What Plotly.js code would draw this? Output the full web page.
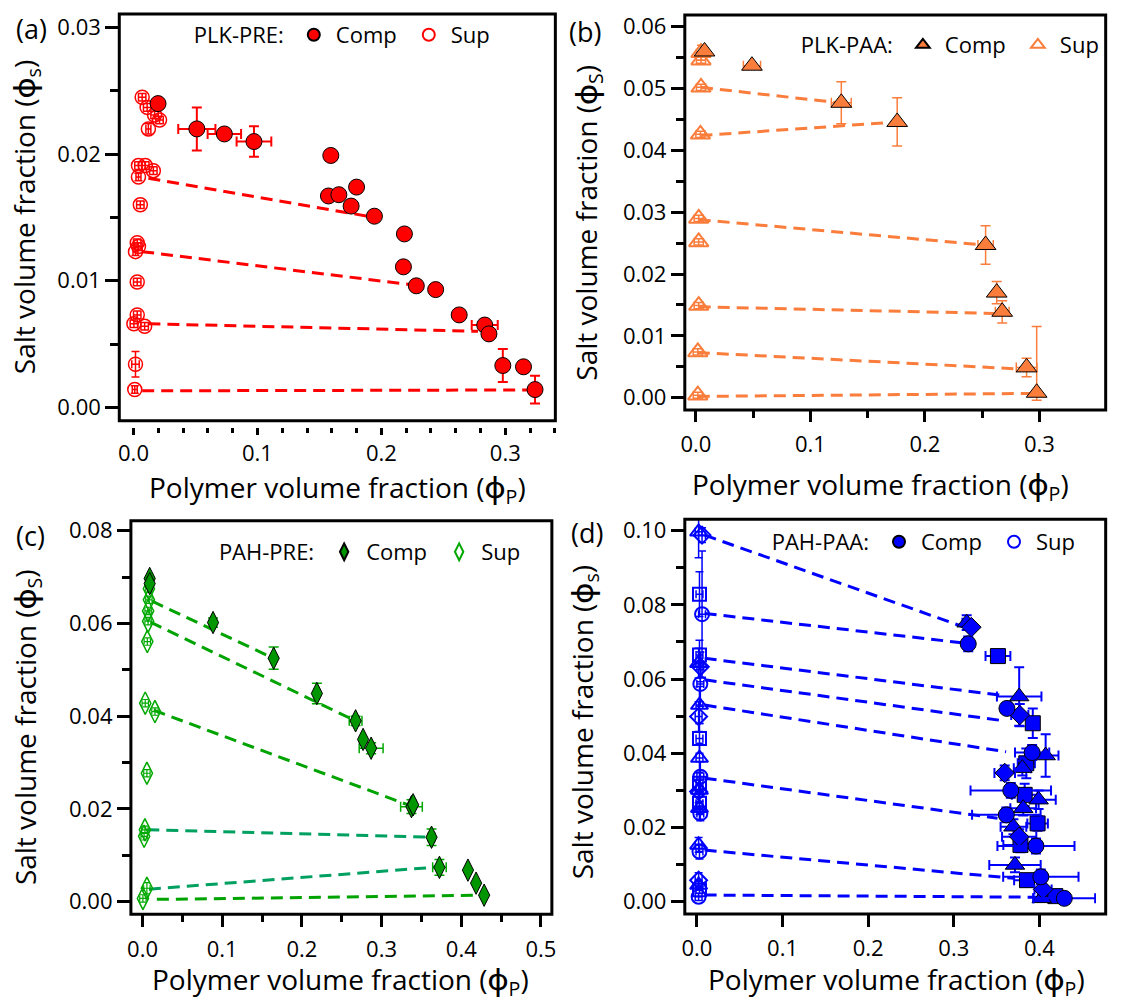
<!DOCTYPE html>
<html><head><meta charset="utf-8">
<script src="https://cdn.plot.ly/plotly-3.0.1.min.js"></script>
<style>html,body{margin:0;padding:0;background:#fff}#chart{width:1132px;height:1004px}</style>
</head><body><div id="chart"></div>
<script>
// ---------------- DATA ----------------
// (a) PLK-PRE
const aSupX = [0.007, 0.011, 0.021, 0.017, 0.012, 0.004, 0.0095, 0.016, 0.004, 0.0055, 0.003, 0.004, 0.0016, 0.003, 0.003, 0.0003, 0.009, 0.0016, 0.001];
const aSupY = [0.0245, 0.0237, 0.0227, 0.0231, 0.0220, 0.0191, 0.0191, 0.0187, 0.0182, 0.0160, 0.0130, 0.0127, 0.0123, 0.0099, 0.0073, 0.0066, 0.0064, 0.0034, 0.0014];
const aSupXErr = [0.003, 0.003, 0.003, 0.003, 0.002, 0.003, 0.003, 0.003, 0.002, 0.003, 0.003, 0.003, 0.002, 0.003, 0.003, 0.003, 0.003, 0.003, 0.002];
const aSupYErr = [0.0003, 0.0003, 0.0003, 0.0003, 0.0004, 0.0003, 0.0003, 0.0003, 0.0003, 0.0003, 0.0003, 0.0003, 0.0003, 0.0003, 0.0003, 0.0003, 0.0003, 0.001, 0.0003];
const aCompX = [0.0198, 0.0511, 0.0733, 0.0972, 0.1592, 0.1573, 0.1657, 0.1800, 0.1756, 0.1944, 0.2186, 0.2178, 0.2282, 0.2438, 0.2628, 0.2834, 0.2868, 0.2980, 0.3147, 0.3240];
const aCompY = [0.0240, 0.0220, 0.0216, 0.0210, 0.0199, 0.0167, 0.0168, 0.0174, 0.0159, 0.0151, 0.0137, 0.0111, 0.0096, 0.0093, 0.0073, 0.0065, 0.0058, 0.0033, 0.0032, 0.0014];
const aCompXErr = [0, 0.015, 0.0135, 0.014, 0, 0, 0, 0, 0, 0, 0, 0, 0, 0, 0, 0.0105, 0, 0, 0, 0];
const aCompYErr = [0, 0.0017, 0, 0.0012, 0, 0, 0, 0, 0, 0, 0, 0, 0, 0, 0, 0, 0, 0.0013, 0, 0.0011];
const aTieX0 = [0.012, 0.007, 0.012, 0.007];
const aTieY0 = [0.0181, 0.0123, 0.0066, 0.0013];
const aTieX1 = [0.189, 0.223, 0.278, 0.324];
const aTieY1 = [0.0151, 0.0097, 0.0060, 0.00137];

// (b) PLK-PAA
const bSupX = [0.0045, 0.0045, 0.0045, 0.004, 0.0025, 0.0025, 0.0025, 0.0017, 0.0017];
const bSupY = [0.0558, 0.0546, 0.0502, 0.0426, 0.0290, 0.0252, 0.0149, 0.0074, 0.0004];
const bSupXErr = [0.004, 0.004, 0.004, 0.004, 0.004, 0.004, 0.004, 0.004, 0.004];
const bSupYErr = [0.0012, 0.0005, 0.0005, 0.0005, 0.0005, 0.0005, 0.0005, 0.0005, 0.0005];
const bCompX = [0.0076, 0.049, 0.127, 0.1758, 0.253, 0.2627, 0.2675, 0.2888, 0.2976];
const bCompY = [0.0560, 0.0537, 0.0477, 0.0446, 0.0247, 0.0170, 0.0139, 0.0049, 0.0008];
const bCompXErr = [0, 0.0075, 0.0087, 0, 0.0067, 0, 0.006, 0.009, 0];
const bCompYErrPlus = [0, 0, 0.0034, 0.0039, 0.0031, 0.0018, 0.0018, 0.0015, 0.0107];
const bCompYErrMinus = [0, 0, 0.0034, 0.0039, 0.0031, 0.0018, 0.0018, 0.0015, 0.0012];
const bTieX0 = [0.0045, 0.004, 0.0025, 0.0025, 0.0017, 0.0017];
const bTieY0 = [0.0502, 0.0424, 0.0288, 0.0147, 0.0073, 0.0002];
const bTieX1 = [0.125, 0.176, 0.252, 0.2675, 0.288, 0.2976];
const bTieY1 = [0.0477, 0.0446, 0.0247, 0.0136, 0.0046, 0.0007];

// (c) PAH-PRE
const cSupX = [0.008, 0.008, 0.007, 0.007, 0.006, 0.0034, 0.0156, 0.0055, 0.003, 0.002, 0.0055, 0.0005];
const cSupY = [0.0675, 0.0651, 0.0627, 0.0605, 0.0561, 0.0428, 0.0410, 0.0277, 0.0155, 0.0141, 0.0029, 0.0007];
const cSupXErr = [0.004, 0.004, 0.004, 0.004, 0.004, 0.004, 0.004, 0.004, 0.004, 0.004, 0.004, 0.004];
const cSupYErr = [0.0008, 0.0008, 0.0008, 0.0008, 0.0008, 0.0008, 0.0008, 0.0008, 0.0008, 0.0008, 0.0012, 0.0008];
const cCompX = [0.009, 0.009, 0.0885, 0.1646, 0.2188, 0.2674, 0.2768, 0.2869, 0.3375, 0.3396, 0.3627, 0.3726, 0.4084, 0.4186, 0.4287];
const cCompY = [0.0697, 0.0686, 0.0602, 0.0525, 0.0449, 0.0390, 0.0350, 0.0331, 0.0205, 0.0209, 0.0139, 0.0074, 0.0068, 0.0040, 0.0014];
const cCompXErr = [0, 0, 0, 0, 0.003, 0.008, 0, 0.015, 0.0136, 0, 0.004, 0.0085, 0, 0, 0];
const cCompYErr = [0, 0, 0.001, 0.0024, 0.0022, 0.001, 0, 0.0012, 0.0015, 0, 0.0018, 0.0017, 0, 0, 0];
const cTieX0 = [0.012, 0.010, 0.014, 0.018];
const cTieY0 = [0.0648, 0.0603, 0.0413, 0.0005];
const cTieX1 = [0.163, 0.266, 0.336, 0.428];
const cTieY1 = [0.0526, 0.0391, 0.0207, 0.0014];
const cTieAltX0 = [0.006, 0.008];
const cTieAltY0 = [0.0155, 0.0027];
const cTieAltX1 = [0.362, 0.372];
const cTieAltY1 = [0.0139, 0.0075];

// (d) PAH-PAA, grouped by marker family
const dCompCircX = [0.3168, 0.362, 0.3914, 0.3665, 0.3613, 0.3959, 0.4016, 0.429];
const dCompCircY = [0.0695, 0.0521, 0.0402, 0.0300, 0.0234, 0.0150, 0.0067, 0.0009];
const dCompCircXErr = [0, 0.005, 0.02, 0.047, 0.04, 0.045, 0.044, 0.036];
const dCompCircYErr = [0.002, 0.0015, 0.002, 0.002, 0.002, 0.002, 0.002, 0.001];
const dCompSqX = [0.3515, 0.3922, 0.3846, 0.3827, 0.3978, 0.3778, 0.3854, 0.4185];
const dCompSqY = [0.0662, 0.0481, 0.0373, 0.0288, 0.0211, 0.0153, 0.0058, 0.0015];
const dCompSqXErr = [0.0145, 0.005, 0.01, 0.015, 0.012, 0.02, 0.015, 0.01];
const dCompSqYErr = [0.001, 0.004, 0.004, 0.003, 0.002, 0.002, 0.001, 0.001];
const dCompTriX = [0.315, 0.3763, 0.4072, 0.380, 0.399, 0.381, 0.3696, 0.3714, 0.4027];
const dCompTriY = [0.0752, 0.0553, 0.0394, 0.0360, 0.0275, 0.0252, 0.0202, 0.0099, 0.0009];
const dCompTriXErr = [0.005, 0.026, 0.015, 0.01, 0.02, 0.015, 0.015, 0.03, 0.01];
const dCompTriYErr = [0.002, 0.0079, 0.0057, 0.002, 0.0025, 0.002, 0.002, 0.002, 0.001];
const dCompDiaX = [0.3205, 0.377, 0.3594, 0.3763, 0.4042];
const dCompDiaY = [0.0740, 0.0503, 0.0347, 0.0175, 0.0033];
const dCompDiaXErr = [0.004, 0.01, 0.012, 0.02, 0.01];
const dCompDiaYErr = [0.001, 0.003, 0.002, 0.002, 0.001];
const dSupCircX = [0.006, 0.004, 0.004, 0.004, 0.003, 0.002];
const dSupCircY = [0.0775, 0.0587, 0.0337, 0.0238, 0.0135, 0.0013];
const dSupCircYErr = [0.017, 0.006, 0.004, 0.002, 0.002, 0.001];
const dSupSqX = [0.003, 0.003, 0.003, 0.003, 0.003, 0.003];
const dSupSqY = [0.0829, 0.0665, 0.0440, 0.0319, 0.0265, 0.0032];
const dSupSqYErr = [0.006, 0.004, 0.004, 0.003, 0.003, 0.001];
const dSupTriX = [0.002, 0.002, 0.003, 0.003, 0.003, 0.003, 0.002, 0.002];
const dSupTriY = [0.0997, 0.0643, 0.0530, 0.0387, 0.0301, 0.0252, 0.0153, 0.0045];
const dSupTriYErr = [0.007, 0.004, 0.005, 0.004, 0.003, 0.003, 0.002, 0.001];
const dSupDiaX = [0.006, 0.004, 0.002, 0.002, 0.002];
const dSupDiaY = [0.0988, 0.0633, 0.0499, 0.0297, 0.0058];
const dSupDiaYErr = [0.002, 0.004, 0.004, 0.003, 0.002];
const dSupXErr = 0.004;
const dTieX0 = [0.009, 0.009, 0.009, 0.009, 0.009, 0.009, 0.009, 0.009];
const dTieY0 = [0.0988, 0.0777, 0.0656, 0.0598, 0.0530, 0.0333, 0.0139, 0.0018];
const dTieX1 = [0.311, 0.309, 0.353, 0.357, 0.361, 0.351, 0.370, 0.398];
const dTieY1 = [0.0741, 0.0698, 0.0557, 0.0488, 0.0404, 0.0225, 0.0063, 0.0012];

// text
const legendTitles = ['PLK-PRE:', 'PLK-PAA:', 'PAH-PRE:', 'PAH-PAA:'];
const panelLabels = ['(a)', '(b)', '(c)', '(d)'];
const xTitle = 'Polymer volume fraction (ϕ<sub>P</sub>)';
const yTitles = ['Salt volume fraction (ϕ<sub>s</sub>)', 'Salt volume fraction (ϕ<sub>S</sub>)',
                 'Salt volume fraction (ϕ<sub>S</sub>)', 'Salt volume fraction (ϕ<sub>s</sub>)'];

// ---------------- STYLE / LAYOUT ----------------
const W = 1132, H = 1004;
const FONT = "'Open Sans', 'Noto Sans', 'DejaVu Sans', sans-serif";
const FW = 500;
const RED = '#ff0000', ORANGE = '#fa7d3c', GREEN = '#009600', GREEN_S = '#00a800', GREEN_L = '#00a300', TEAL = '#00a060', BLUE = '#0000ff';
const DASH = '12px,7px';
const fx = p => p / W, fy = p => 1 - p / H;

function eb(arr, color, th, w, minus) {
  const o = {type: 'data', array: arr.map(v => v > 0 ? v : NaN), visible: true, color: color, thickness: th, width: w};
  if (minus) { o.symmetric = false; o.arrayminus = minus.map(v => v > 0 ? v : NaN); }
  return o;
}
function tieTrace(x0, y0, x1, y1, color, xa, ya) {
  const xs = [], ys = [];
  for (let i = 0; i < x0.length; i++) { xs.push(x0[i], x1[i], null); ys.push(y0[i], y1[i], null); }
  return {type: 'scatter', mode: 'lines', x: xs, y: ys, xaxis: xa, yaxis: ya, connectgaps: false,
          line: {color: color, width: 3, dash: DASH}, showlegend: false, hoverinfo: 'skip'};
}
function pts(x, y, xa, ya, marker, ex, ey, extra) {
  return Object.assign({type: 'scatter', mode: 'markers', x: x, y: y, xaxis: xa, yaxis: ya, marker: marker,
    error_x: ex, error_y: ey, showlegend: false, hoverinfo: 'x+y'}, extra || {});
}
const constArr = (n, v) => Array.from({length: n}, () => v);

const data = [];
// (a)
data.push(tieTrace(aTieX0, aTieY0, aTieX1, aTieY1, RED, 'x', 'y'));
data.push(pts(aSupX, aSupY, 'x', 'y', {symbol: 'circle-open', size: 14, color: RED, line: {width: 1.5}},
  eb(aSupXErr, RED, 1.5, 4), eb(aSupYErr, RED, 1.5, 4),
  {name: 'Sup', showlegend: true, legend: 'legend', legendrank: 2}));
data.push(pts(aCompX, aCompY, 'x', 'y', {symbol: 'circle', size: 16, color: RED, line: {color: '#000', width: 1}},
  eb(aCompXErr, RED, 2, 5), eb(aCompYErr, RED, 2, 5),
  {name: 'Comp', showlegend: true, legend: 'legend', legendrank: 1}));
// (b)
data.push(tieTrace(bTieX0, bTieY0, bTieX1, bTieY1, ORANGE, 'x2', 'y2'));
data.push(pts(bSupX, bSupY, 'x2', 'y2', {symbol: 'triangle-up-open', size: 17, color: ORANGE, line: {width: 2}},
  eb(bSupXErr, ORANGE, 1.5, 4), eb(bSupYErr, ORANGE, 1.5, 4),
  {name: 'Sup', showlegend: true, legend: 'legend2', legendrank: 2}));
data.push(pts(bCompX, bCompY, 'x2', 'y2', {symbol: 'triangle-up', size: 18, color: ORANGE, line: {color: '#000', width: 1}},
  eb(bCompXErr, ORANGE, 1.5, 5), eb(bCompYErrPlus, ORANGE, 1.5, 5, bCompYErrMinus),
  {name: 'Comp', showlegend: true, legend: 'legend2', legendrank: 1}));
// (c)
data.push(tieTrace(cTieX0, cTieY0, cTieX1, cTieY1, GREEN_L, 'x3', 'y3'));
data.push(tieTrace(cTieAltX0, cTieAltY0, cTieAltX1, cTieAltY1, TEAL, 'x3', 'y3'));
data.push(pts(cSupX, cSupY, 'x3', 'y3', {symbol: 'diamond-tall-open', size: 16, color: GREEN_S, line: {width: 1.5}},
  eb(cSupXErr, GREEN_S, 1.2, 3), eb(cSupYErr, GREEN_S, 1.2, 3),
  {name: 'Sup', showlegend: true, legend: 'legend3', legendrank: 2}));
data.push(pts(cCompX, cCompY, 'x3', 'y3', {symbol: 'diamond-tall', size: 16, color: GREEN, line: {color: '#000', width: 1}},
  eb(cCompXErr, GREEN_S, 1.5, 5), eb(cCompYErr, GREEN_S, 1.5, 5),
  {name: 'Comp', showlegend: true, legend: 'legend3', legendrank: 1}));
// (d)
data.push(tieTrace(dTieX0, dTieY0, dTieX1, dTieY1, BLUE, 'x4', 'y4'));
const dSupSets = [[dSupSqX, dSupSqY, dSupSqYErr, 'square-open', 13], [dSupTriX, dSupTriY, dSupTriYErr, 'triangle-up-open', 15],
                  [dSupDiaX, dSupDiaY, dSupDiaYErr, 'diamond-open', 13], [dSupCircX, dSupCircY, dSupCircYErr, 'circle-open', 14]];
dSupSets.forEach(s => {
  const isLeg = s[3] === 'circle-open';
  data.push(pts(s[0], s[1], 'x4', 'y4', {symbol: s[3], size: s[4], color: BLUE, line: {width: 2}},
    eb(constArr(s[0].length, dSupXErr), BLUE, 1.5, 4), eb(s[2], BLUE, 1.5, 4),
    isLeg ? {name: 'Sup', showlegend: true, legend: 'legend4', legendrank: 2} : {}));
});
const dCompSets = [[dCompSqX, dCompSqY, dCompSqXErr, dCompSqYErr, 'square', 15], [dCompTriX, dCompTriY, dCompTriXErr, dCompTriYErr, 'triangle-up', 17],
                   [dCompDiaX, dCompDiaY, dCompDiaXErr, dCompDiaYErr, 'diamond', 15], [dCompCircX, dCompCircY, dCompCircXErr, dCompCircYErr, 'circle', 16]];
dCompSets.forEach(s => {
  const isLeg = s[4] === 'circle';
  data.push(pts(s[0], s[1], 'x4', 'y4', {symbol: s[4], size: s[5], color: BLUE, line: {color: '#000', width: 1}},
    eb(s[2], BLUE, 2, 5), eb(s[3], BLUE, 2, 5),
    isLeg ? {name: 'Comp', showlegend: true, legend: 'legend4', legendrank: 1} : {}));
});

// panel frames in pixels
const P = [
  {l: 123.2, r: 573.6, t: 14, b: 420.7, xr: [-0.01148, 0.3404], yr: [-0.00106, 0.03108], xmin: 0.02, ydt: 0.01, ymin: 0.005, xtl: 7, xml: 5, so: 0, closeRight: true},
  {l: 707.3, r: 1132, t: 15, b: 410, xr: [-0.00964, 0.3494], yr: [-0.00199, 0.0619], xmin: 0.05, ydt: 0.01, ymin: 0.005, xtl: 11, xml: 7, so: 4, closeRight: false},
  {l: 135.2, r: 570, t: 520.7, b: 914.3, xr: [-0.01458, 0.5137], yr: [-0.00272, 0.08216], xmin: 0.05, ydt: 0.02, ymin: 0.01, xtl: 12, xml: 7, so: 3, closeRight: true},
  {l: 707.3, r: 1132, t: 519.3, b: 914, xr: [-0.01413, 0.466], yr: [-0.00332, 0.10307], xmin: null, ydt: 0.02, ymin: 0.01, xtl: 12, xml: 7, so: 3, closeRight: false}
];
const tickFont = {family: FONT, size: 22, color: '#000', weight: FW};
const layout = {
  width: W, height: H, margin: {l: 0, r: 0, t: 0, b: 0}, paper_bgcolor: '#fff', plot_bgcolor: 'rgba(0,0,0,0)',
  showlegend: true, font: {family: FONT, color: '#000', weight: FW}, shapes: [], annotations: []
};
P.forEach((p, i) => {
  const sx = i === 0 ? '' : String(i + 1);
  const xa = {
    domain: [fx(p.l), fx(p.r)], range: p.xr, showgrid: false, zeroline: false, showline: false,
    ticks: 'outside', tickwidth: 3, tickcolor: '#000', ticklen: p.xtl, dtick: 0.1, tick0: 0, tickformat: '.1f',
    tickfont: tickFont, fixedrange: true, ticklabelstandoff: p.so
  };
  if (p.xmin) xa.minor = {ticks: 'outside', dtick: p.xmin, tick0: 0, ticklen: p.xml, tickwidth: 3, tickcolor: '#000', showgrid: false};
  if (i === 0) { xa.anchor = 'free'; xa.position = fy(426.5); } else { xa.anchor = 'y' + sx; }
  const ya = {
    domain: [fy(p.b), fy(p.t)], range: p.yr, anchor: 'x' + sx, showgrid: false, zeroline: false, showline: false,
    ticks: 'outside', tickwidth: 3, tickcolor: '#000', ticklen: 13, dtick: p.ydt, tick0: 0, tickformat: '.2f',
    tickfont: tickFont, fixedrange: true,
    minor: {ticks: 'outside', dtick: p.ymin, tick0: 0, ticklen: 8, tickwidth: 3, tickcolor: '#000', showgrid: false}
  };
  layout['xaxis' + sx] = xa;
  layout['yaxis' + sx] = ya;
  layout.shapes.push({type: 'rect', xref: 'paper', yref: 'paper', x0: fx(p.l), x1: p.closeRight ? fx(p.r) : fx(p.r + 10),
    y0: fy(p.b), y1: fy(p.t), line: {color: '#000', width: 3}, fillcolor: 'rgba(0,0,0,0)', layer: 'above'});
});

// legends
const legPos = [[198, 35], [825, 45], [224, 552], [795, 542]];
legPos.forEach((lp, i) => {
  const key = i === 0 ? 'legend' : 'legend' + (i + 1);
  layout[key] = {x: fx(lp[0]), y: fy(lp[1]), xanchor: 'left', yanchor: 'middle', orientation: 'h',
    title: {text: legendTitles[i], side: 'left', font: {family: FONT, size: 22, color: '#000', weight: FW}},
    font: {family: FONT, size: 22, color: '#000', weight: FW}, bgcolor: 'rgba(0,0,0,0)', borderwidth: 0,
    itemsizing: 'constant', itemwidth: 34, entrywidth: 66, entrywidthmode: 'pixels', traceorder: 'normal'};
});

// annotations: panel labels + axis titles
const labelPos = [[33, 29], [604, 32], [31, 535], [606, 532]];
const xtPos = [[349, 489], [909, 486], [352, 981], [926, 981]];
const ytPos = [[27, 217], [607, 223], [28, 727], [603.5, 722]];
const titleFont = {family: FONT, size: 28, color: '#000', weight: FW};
const labelFont = {family: FONT, size: 27, color: '#000', weight: FW};
for (let i = 0; i < 4; i++) {
  layout.annotations.push({xref: 'paper', yref: 'paper', x: fx(labelPos[i][0]), y: fy(labelPos[i][1]), text: panelLabels[i],
    showarrow: false, xanchor: 'center', yanchor: 'middle', font: labelFont});
  layout.annotations.push({xref: 'paper', yref: 'paper', x: fx(xtPos[i][0]), y: fy(xtPos[i][1]), text: xTitle,
    showarrow: false, xanchor: 'center', yanchor: 'middle', font: titleFont});
  layout.annotations.push({xref: 'paper', yref: 'paper', x: fx(ytPos[i][0]), y: fy(ytPos[i][1]), text: yTitles[i],
    showarrow: false, textangle: -90, xanchor: 'center', yanchor: 'middle', font: titleFont});
}

// tidy the zero-width helper characters Plotly inserts around <sub> (visual result unchanged)
function tidySubscripts(gd) {
  const ZW = /\u200b/g;
  gd.querySelectorAll('svg tspan').forEach(ts => {
    if (ts.textContent.replace(ZW, '') !== '') return;
    const nxt = ts.nextSibling;
    if (nxt && nxt.nodeType === 3 && nxt.nodeValue.replace(ZW, '') !== '') {
      ts.textContent = nxt.nodeValue.replace(ZW, '');
      nxt.parentNode.removeChild(nxt);
    } else {
      ts.parentNode.removeChild(ts);
    }
  });
  gd.querySelectorAll('svg text').forEach(t => {
    Array.from(t.childNodes).forEach(n => {
      if (n.nodeType === 3 && n.nodeValue.indexOf('\u200b') >= 0) {
        const v = n.nodeValue.replace(ZW, '');
        if (v === '') t.removeChild(n); else n.nodeValue = v;
      }
    });
  });
}

Plotly.newPlot('chart', data, layout, {displayModeBar: false, staticPlot: true}).then(gd => {
  try { tidySubscripts(gd); } catch (e) { /* keep default rendering */ }
});
</script></body></html>
